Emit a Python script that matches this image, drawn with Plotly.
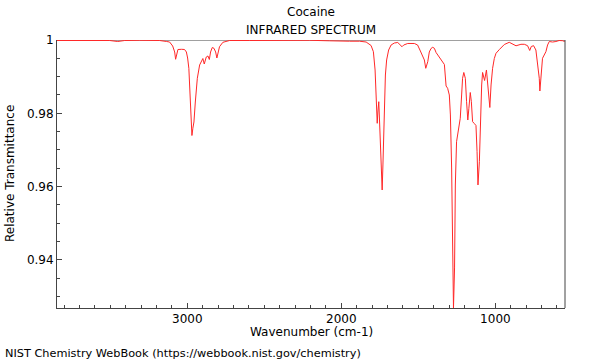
import plotly.graph_objects as go

title = "Cocaine"
subtitle = "INFRARED SPECTRUM"
x_label = "Wavenumber (cm-1)"
y_label = "Relative Transmittance"
credit = "NIST Chemistry WebBook (https://webbook.nist.gov/chemistry)"

wavenumber = [
    3846, 3698, 3504, 3452, 3407, 3309, 3180, 3134, 3115, 3095, 3082, 3076, 3067, 3061,
    3037, 3018, 3006, 2998, 2990, 2984, 2979, 2973, 2970, 2964, 2957, 2948, 2935, 2920,
    2909, 2899, 2890, 2877, 2866, 2857, 2849, 2838, 2827, 2816, 2808, 2797, 2791, 2769,
    2726, 2596, 2466, 2337, 2207, 2077, 1980, 1947, 1882, 1839, 1807, 1792, 1781, 1774,
    1767, 1763, 1757, 1751, 1746, 1735, 1730, 1726, 1720, 1714, 1706, 1693, 1677, 1656,
    1634, 1619, 1606, 1595, 1569, 1526, 1505, 1487, 1472, 1461, 1452, 1439, 1429, 1418,
    1407, 1396, 1385, 1368, 1353, 1342, 1331, 1320, 1310, 1299, 1292, 1284, 1277, 1272,
    1265, 1260, 1252, 1245, 1234, 1228, 1219, 1213, 1205, 1195, 1187, 1179, 1172, 1163,
    1156, 1148, 1137, 1126, 1119, 1113, 1104, 1098, 1089, 1083, 1070, 1058, 1049, 1036,
    1028, 1018, 1007, 996, 974, 942, 910, 866, 834, 812, 791, 777, 767, 752, 737, 726,
    715, 711, 704, 694, 672, 661, 650, 629, 607, 586, 564, 550,
]
transmittance = [
    0.99986, 0.99992, 0.99986, 0.99959, 0.99986, 0.99992, 0.99986, 0.99959, 0.99945,
    0.99836, 0.99673, 0.99474, 0.99673, 0.99741, 0.99746, 0.99741, 0.99673, 0.99509,
    0.99228, 0.98773, 0.98309, 0.97764, 0.97395, 0.97592, 0.97764, 0.98309, 0.98955,
    0.99318, 0.99441, 0.99495, 0.99345, 0.99536, 0.99564, 0.99468, 0.99673, 0.99795,
    0.99774, 0.99673, 0.99509, 0.99727, 0.99817, 0.99937, 0.99986, 0.99986, 0.99992,
    0.99981, 0.99992, 0.99978, 0.99959, 0.99967, 0.99967, 0.99945, 0.99850, 0.99681,
    0.99182, 0.98500, 0.97728, 0.98036, 0.98317, 0.97682, 0.97000, 0.95909, 0.96591,
    0.97409, 0.98364, 0.99045, 0.99455, 0.99727, 0.99864, 0.99918, 0.99932, 0.99883,
    0.99817, 0.99864, 0.99905, 0.99905, 0.99864, 0.99700, 0.99564, 0.99455, 0.99228,
    0.99408, 0.99673, 0.99768, 0.99801, 0.99774, 0.99659, 0.99550, 0.99455, 0.99386,
    0.99332, 0.98745, 0.98683, 0.98500, 0.97955, 0.96509, 0.94682, 0.92691, 0.93782,
    0.96045, 0.97226, 0.97409, 0.97592, 0.97865, 0.98500, 0.98955, 0.99114, 0.98955,
    0.98317, 0.97818, 0.98137, 0.98568, 0.98317, 0.97772, 0.97723, 0.97668, 0.96954,
    0.96046, 0.96681, 0.97865, 0.98773, 0.99114, 0.98895, 0.99182, 0.98773, 0.98159,
    0.98773, 0.99228, 0.99495, 0.99637, 0.99741, 0.99877, 0.99937, 0.99842, 0.99883,
    0.99883, 0.99845, 0.99714, 0.99823, 0.99845, 0.99727, 0.99408, 0.98955, 0.98609,
    0.99045, 0.99501, 0.99681, 0.99864, 0.99959, 0.99945, 0.99959, 0.99986, 0.99981,
    0.99959,
]

x_range = [3846, 548]
y_range = [0.9269, 1.0]
x_tickvals = [3000, 2000, 1000]
x_ticktext = ["3000", "2000", "1000"]
y_tickvals = [0.94, 0.96, 0.98, 1.0]
y_ticktext = ["0.94", "0.96", "0.98", "1"]

font = "DejaVu Sans, sans-serif"
axis_color = "#444444"

fig = go.Figure()
fig.add_trace(go.Scatter(
    x=wavenumber, y=transmittance, mode="lines",
    line=dict(color="rgb(255,40,40)", width=1),
    hoverinfo="skip", showlegend=False,
))

fig.update_layout(
    width=600, height=360,
    margin=dict(l=57, r=35, t=40, b=52),
    paper_bgcolor="white", plot_bgcolor="white",
    font=dict(family=font, size=12, color="black"),
    showlegend=False,
    xaxis=dict(
        range=x_range, showgrid=False, zeroline=False,
        showline=True, linecolor=axis_color, linewidth=1,
        ticks="inside", ticklen=5, tickcolor=axis_color,
        tickvals=x_tickvals, ticktext=x_ticktext,
        minor=dict(dtick=100, tick0=0, ticks="inside", ticklen=3, tickcolor=axis_color),
    ),
    yaxis=dict(
        range=y_range, showgrid=False, zeroline=False,
        showline=True, linecolor=axis_color, linewidth=1,
        ticks="inside", ticklen=5, tickcolor=axis_color,
        tickvals=y_tickvals, ticktext=y_ticktext,
        minor=dict(dtick=0.005, tick0=0, ticks="inside", ticklen=3, tickcolor=axis_color),
    ),
    shapes=[
        dict(type="line", xref="paper", yref="y", x0=0, x1=1, y0=1.0, y1=1.0,
             line=dict(color="#a0a0a0", width=2), layer="below"),
        dict(type="line", xref="paper", yref="paper", x0=1, x1=1, y0=0, y1=1,
             line=dict(color=axis_color, width=1)),
    ],
    annotations=[
        dict(text=title, xref="paper", yref="paper", x=0.5, y=1.1045,
             xanchor="center", yanchor="middle", showarrow=False, font=dict(size=12)),
        dict(text=subtitle, xref="paper", yref="paper", x=0.5, y=1.037,
             xanchor="center", yanchor="middle", showarrow=False, font=dict(size=12)),
        dict(text=x_label, xref="paper", yref="paper", x=0.5, y=-0.0896,
             xanchor="center", yanchor="middle", showarrow=False, font=dict(size=12)),
        dict(text=y_label, xref="paper", yref="paper", x=-0.0925, y=0.5,
             xanchor="center", yanchor="middle", showarrow=False, textangle=-90,
             font=dict(size=12)),
        dict(text=credit, xref="paper", yref="paper", x=-0.1063, y=-0.168,
             xanchor="left", yanchor="middle", showarrow=False, font=dict(size=11.3)),
    ],
)

fig.write_html(
    "out.html",
    config={"displayModeBar": False},
    post_script="document.body.style.margin='0';document.body.style.overflow='hidden';",
)
